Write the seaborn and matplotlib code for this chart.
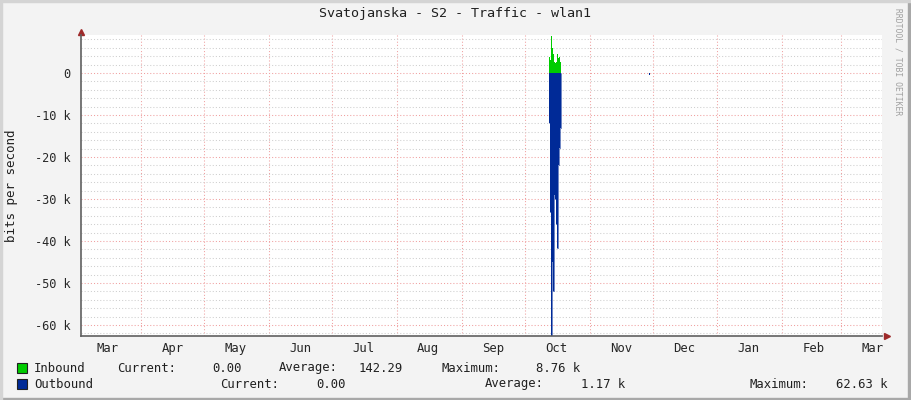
import pandas as pd
import numpy as np
import matplotlib
matplotlib.use("Agg")
import matplotlib.pyplot as plt
import matplotlib.dates as mdates
import matplotlib.ticker as mticker
from matplotlib.patches import Rectangle
import seaborn as sns

# time window of the yearly graph
period_start = "2018-03-03 02:00"
period_end = "2019-03-20 12:00"

# burst of traffic in October, 12h samples (values in kbit/s)
burst_start = "2018-10-12 12:00"
inbound_k = [3.9, 3.2, 8.76, 6.0, 4.5, 2.6, 2.4, 2.6, 4.6, 3.6, 3.9, 2.6]
outbound_k = [12.0, 33.0, 62.63, 45.0, 52.0, 29.0, 30.0, 36.0, 41.7, 22.0, 17.8, 13.0]

# tiny blip end of November
blip_time = "2018-11-29 12:00"
blip_outbound_k = 0.4

title = "Svatojanska - S2 - Traffic - wlan1"
legend_rows = [
    ("Inbound", "#00CC00", [("Current:", 117), ("0.00", 212), ("Average:", 279),
                            ("142.29", 359), ("Maximum:", 441), ("8.76 k", 536)]),
    ("Outbound", "#002A97", [("Current:", 220), ("0.00", 316), ("Average:", 485),
                             ("1.17 k", 581), ("Maximum:", 750), ("62.63 k", 836)]),
]

# build the data frame
t0 = pd.Timestamp(burst_start)
times = list(pd.date_range(t0, periods=len(inbound_k) + 1, freq="12h"))
inb = [v * 1000 for v in inbound_k] + [0.0]
outb = [-v * 1000 for v in outbound_k] + [0.0]
bt = pd.Timestamp(blip_time)
df = pd.DataFrame({
    "time": [pd.Timestamp(period_start), t0 - pd.Timedelta("1min")] + times
            + [bt, bt + pd.Timedelta("12h"), pd.Timestamp(period_end)],
    "inbound": [0.0, 0.0] + inb + [0.0, 0.0, 0.0],
    "outbound": [0.0, 0.0] + outb + [-blip_outbound_k * 1000, 0.0, 0.0],
})
burst = pd.DataFrame({"time": times, "inbound": inb, "outbound": outb})

sns.set_style("white")
plt.rcParams["font.family"] = ["DejaVu Sans Mono"]

W, H = 911, 400
fig = plt.figure(figsize=(W / 100, H / 100), dpi=100)
fig.patch.set_facecolor("#F3F3F3")

def fx(px):
    return px / W

def fy(py):
    return 1 - py / H

left, right, top, bottom = 80.5, 882, 35, 336
ax = fig.add_axes([fx(left), fy(bottom), fx(right - left), (bottom - top) / H])
ax.set_facecolor("white")

# areas
ax.fill_between(df["time"], df["inbound"], 0, step="post", color="#00CC00", lw=0, zorder=2)
ax.fill_between(df["time"], df["outbound"], 0, step="post", color="#002A97", lw=0, zorder=2)
sns.lineplot(data=burst, x="time", y="outbound", ax=ax, color="#002A97",
             lw=0.4, drawstyle="steps-post", estimator=None, zorder=2)

ax.set_xlim(pd.Timestamp(period_start), pd.Timestamp(period_end))
ax.set_ylim(-62630, 9050)

# grids
ax.yaxis.set_major_locator(mticker.MultipleLocator(10000))
ax.yaxis.set_minor_locator(mticker.MultipleLocator(2000))
ax.xaxis.set_major_locator(mdates.MonthLocator())
ax.xaxis.set_minor_locator(mdates.MonthLocator(bymonthday=16))
ax.xaxis.set_major_formatter(mticker.NullFormatter())
ax.xaxis.set_minor_formatter(mdates.DateFormatter("%b"))

def yfmt(v, pos):
    if abs(v) < 1:
        return "0"
    return f"{v / 1000:.0f} k"

ax.yaxis.set_major_formatter(mticker.FuncFormatter(yfmt))

dots = (0, (1, 2))
ax.grid(True, axis="y", which="minor", color="#CFCFCF", lw=0.75, ls=dots, zorder=0)
ax.grid(True, axis="y", which="major", color="#F0A0A0", lw=0.75, ls=dots, zorder=0)
ax.grid(True, axis="x", which="major", color="#F0A0A0", lw=0.75, ls=dots, zorder=0)
ax.set_axisbelow(True)

ax.tick_params(axis="y", which="both", length=0, pad=7, labelsize=8.6)
ax.tick_params(axis="x", which="major", length=3, color="#F0A0A0", direction="out")
ax.tick_params(axis="x", which="minor", length=0, pad=4, labelsize=8.8)

for s in ["top", "right"]:
    ax.spines[s].set_visible(False)
for s in ["left", "bottom"]:
    ax.spines[s].set_color("#606060")
    ax.spines[s].set_linewidth(1.2)
ax.set_xlabel("")
ax.set_ylabel("")

# arrows
ax.plot([1.006], [0], marker=">", color="#9E2A2A", ms=4.5, transform=ax.transAxes, clip_on=False)
ax.plot([0], [1.01], marker="^", color="#9E2A2A", ms=4.5, transform=ax.transAxes, clip_on=False)

# texts
fig.text(fx(455), fy(14), title, ha="center", va="center", fontsize=9.6, color="#202020")
fig.text(fx(12), fy(186), "bits per second", rotation=90, ha="center", va="center",
         fontsize=9, color="#202020")
fig.text(fx(898), fy(62), "RRDTOOL / TOBI OETIKER", rotation=270, ha="center", va="center",
         fontsize=5.8, color="#A0A0A0")

for i, (name, color, fields) in enumerate(legend_rows):
    yc = 368 + 16 * i
    fig.patches.append(Rectangle((fx(17), fy(yc + 5)), 10 / W, 10 / H, transform=fig.transFigure,
                                 facecolor=color, edgecolor="#202020", lw=0.8))
    fig.text(fx(34), fy(yc), name, ha="left", va="center", fontsize=8.8, color="#202020")
    for txt, xpos in fields:
        fig.text(fx(xpos), fy(yc), txt, ha="left", va="center", fontsize=8.8, color="#202020")

# frame shading
fig.patches.append(Rectangle((0, 0), 1, 2 / H, transform=fig.transFigure, color="#A8A8A8"))
fig.patches.append(Rectangle((1 - 3 / W, 0), 3 / W, 1, transform=fig.transFigure, color="#A8A8A8"))
fig.patches.append(Rectangle((0, 1 - 2 / H), 1, 2 / H, transform=fig.transFigure, color="#D4D4D4"))
fig.patches.append(Rectangle((0, 0), 2 / W, 1, transform=fig.transFigure, color="#D4D4D4"))

fig.savefig("out.png", dpi=100, facecolor=fig.get_facecolor())
